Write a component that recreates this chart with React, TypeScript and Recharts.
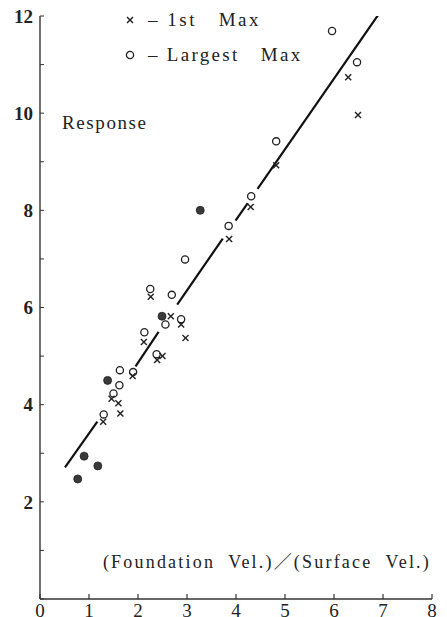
import React from 'react';
import { ScatterChart, Scatter, XAxis, YAxis, Legend } from 'recharts';

const xTicks = [0, 1, 2, 3, 4, 5, 6, 7, 8];
const yTicks = [0, 1, 2, 3, 4, 5, 6, 7, 8, 9, 10, 11, 12];

const xLabel = '(Foundation  Vel.)／(Surface  Vel.)';
const yLabel = 'Response';
const legendFirst = '1st   Max';
const legendLargest = 'Largest   Max';

const firstMax = [
  { x: 6.29, y: 10.74 }, { x: 6.49, y: 9.96 }, { x: 4.82, y: 8.93 }, { x: 4.3, y: 8.07 },
  { x: 3.86, y: 7.41 }, { x: 2.26, y: 6.22 }, { x: 2.67, y: 5.82 }, { x: 2.88, y: 5.65 },
  { x: 2.97, y: 5.37 }, { x: 2.12, y: 5.29 }, { x: 2.39, y: 4.92 }, { x: 2.5, y: 5.0 },
  { x: 1.89, y: 4.59 }, { x: 1.46, y: 4.12 }, { x: 1.6, y: 4.03 }, { x: 1.64, y: 3.82 },
  { x: 1.29, y: 3.65 },
];

const largestMax = [
  { x: 5.96, y: 11.69 }, { x: 6.47, y: 11.05 }, { x: 4.82, y: 9.42 }, { x: 4.31, y: 8.29 },
  { x: 3.85, y: 7.68 }, { x: 2.96, y: 6.99 }, { x: 2.25, y: 6.38 }, { x: 2.69, y: 6.26 },
  { x: 2.56, y: 5.65 }, { x: 2.88, y: 5.76 }, { x: 2.13, y: 5.49 }, { x: 2.38, y: 5.04 },
  { x: 1.9, y: 4.67 }, { x: 1.63, y: 4.71 }, { x: 1.62, y: 4.4 }, { x: 1.5, y: 4.23 },
  { x: 1.3, y: 3.8 },
];

const coincident = [
  { x: 3.27, y: 8.0 }, { x: 2.49, y: 5.82 }, { x: 1.38, y: 4.5 },
  { x: 0.9, y: 2.94 }, { x: 1.18, y: 2.74 }, { x: 0.77, y: 2.47 },
];

const fitSeg1 = [{ x: 0.51, y: 2.71 }, { x: 1.17, y: 3.65 }];
const fitSeg2 = [{ x: 1.95, y: 4.79 }, { x: 2.42, y: 5.5 }];
const fitSeg3 = [{ x: 2.8, y: 6.06 }, { x: 3.73, y: 7.42 }];
const fitSeg4 = [{ x: 3.99, y: 7.79 }, { x: 4.24, y: 8.15 }];
const fitSeg5 = [{ x: 4.44, y: 8.44 }, { x: 6.9, y: 12.02 }];
const fitSegments = [fitSeg1, fitSeg2, fitSeg3, fitSeg4, fitSeg5];

const FONT = '"Liberation Serif", "Noto Sans CJK JP", serif';
const INK = '#222';

const Cross = (props: any) => {
  const { cx, cy } = props;
  if (cx == null || cy == null) return <g />;
  const s = 3;
  return (
    <g>
      <line x1={cx - s} y1={cy - s} x2={cx + s} y2={cy + s} stroke={INK} strokeWidth={1.4} />
      <line x1={cx - s} y1={cy + s} x2={cx + s} y2={cy - s} stroke={INK} strokeWidth={1.4} />
    </g>
  );
};

const Ring = (props: any) => {
  const { cx, cy } = props;
  if (cx == null || cy == null) return <g />;
  return <circle cx={cx} cy={cy} r={3.6} fill="none" stroke={INK} strokeWidth={1.3} />;
};

const Dot = (props: any) => {
  const { cx, cy } = props;
  if (cx == null || cy == null) return <g />;
  return <circle cx={cx} cy={cy} r={4} fill="#3a3a3a" stroke="#222" strokeWidth={0.8} />;
};

const NoShape = () => <g />;

const LegendBox = () => (
  <div style={{ fontFamily: FONT, fontSize: 19, color: INK, lineHeight: '35px' }}>
    <div style={{ display: 'flex', alignItems: 'center' }}>
      <svg width={12} height={12} style={{ marginRight: 12 }}>
        <line x1={3} y1={3} x2={9} y2={9} stroke={INK} strokeWidth={1.4} />
        <line x1={3} y1={9} x2={9} y2={3} stroke={INK} strokeWidth={1.4} />
      </svg>
      <span style={{ whiteSpace: 'pre', letterSpacing: 2.5 }}>{'– ' + legendFirst}</span>
    </div>
    <div style={{ display: 'flex', alignItems: 'center' }}>
      <svg width={12} height={12} style={{ marginRight: 12 }}>
        <circle cx={6} cy={6} r={3.6} fill="none" stroke={INK} strokeWidth={1.3} />
      </svg>
      <span style={{ whiteSpace: 'pre', letterSpacing: 2.3 }}>{'– ' + legendLargest}</span>
    </div>
  </div>
);

const XLabel = (props: any) => {
  const vb = props.viewBox || {};
  return (
    <text
      x={vb.x + vb.width - 1}
      y={vb.y - 31}
      textAnchor="end"
      fontFamily={FONT}
      fontSize={18}
      fill={INK}
      letterSpacing={2.2}
      style={{ whiteSpace: 'pre' }}
    >
      {xLabel}
    </text>
  );
};

const YLabel = (props: any) => {
  const vb = props.viewBox || {};
  return (
    <text
      x={vb.x + vb.width + 22}
      y={vb.y + 113}
      textAnchor="start"
      fontFamily={FONT}
      fontSize={19}
      fill={INK}
      letterSpacing={1.6}
    >
      {yLabel}
    </text>
  );
};

export default function App() {
  return (
    <div style={{ position: 'absolute', left: 0, top: 0, width: 447, height: 617, background: '#fff' }}>
      <ScatterChart width={447} height={617} margin={{ top: 16, right: 15, left: 0, bottom: 0 }}>
        <XAxis
          type="number"
          dataKey="x"
          domain={[0, 8]}
          ticks={xTicks}
          interval={0}
          height={18}
          allowDataOverflow
          tickSize={-5}
          tickMargin={10}
          axisLine={{ stroke: '#333', strokeWidth: 1.4 }}
          tickLine={{ stroke: '#333', strokeWidth: 1.2 }}
          tick={{ fontFamily: FONT, fontSize: 19, fill: INK }}
          label={<XLabel />}
        />
        <YAxis
          type="number"
          dataKey="y"
          domain={[0, 12]}
          ticks={yTicks}
          interval={0}
          width={40}
          allowDataOverflow
          tickSize={-4}
          tickMargin={11}
          tickFormatter={(v: number) => (v % 2 === 0 && v !== 0 ? String(v) : '')}
          axisLine={{ stroke: '#333', strokeWidth: 1.4 }}
          tickLine={{ stroke: '#333', strokeWidth: 1 }}
          tick={{ fontFamily: FONT, fontSize: 19, fill: INK, fontWeight: 'bold' }}
          label={<YLabel />}
        />
        <Legend
          layout="vertical"
          align="center"
          verticalAlign="middle"
          content={<LegendBox />}
          wrapperStyle={{ position: 'absolute', top: 2, left: 124, width: 230, height: 80 }}
        />
        {fitSegments.map((seg, i) => (
          <Scatter
            key={'fit' + i}
            data={seg}
            line={{ stroke: '#111', strokeWidth: 2.2 }}
            shape={NoShape}
            isAnimationActive={false}
            legendType="none"
          />
        ))}
        <Scatter name="1st Max" data={firstMax} shape={Cross} isAnimationActive={false} />
        <Scatter name="Largest Max" data={largestMax} shape={Ring} isAnimationActive={false} />
        <Scatter name="Coincident" data={coincident} shape={Dot} isAnimationActive={false} />
      </ScatterChart>
    </div>
  );
}
